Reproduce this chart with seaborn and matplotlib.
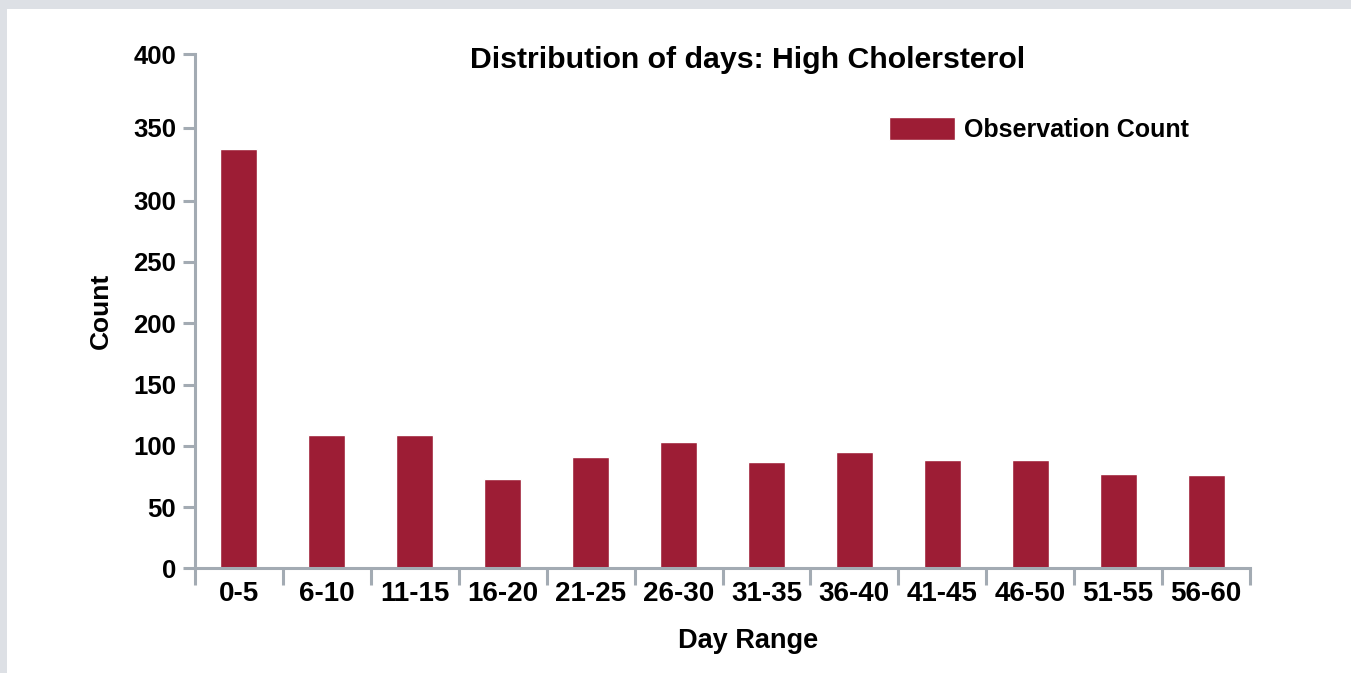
import numpy as np
import pandas as pd
import matplotlib
matplotlib.use("Agg")
import matplotlib.pyplot as plt
import seaborn as sns
from matplotlib.patches import Rectangle

# Data
day_ranges = ["0-5", "6-10", "11-15", "16-20", "21-25", "26-30",
              "31-35", "36-40", "41-45", "46-50", "51-55", "56-60"]
counts = [335, 109, 109, 73, 91, 103, 87, 95, 88, 88, 77, 76]
y_ticks = [0, 50, 100, 150, 200, 250, 300, 350, 400]

bar_color = "#9d1d35"
axis_gray = "#a3abb3"

sns.set_theme(style="white")
plt.rcParams["font.family"] = ["Liberation Sans", "DejaVu Sans"]
plt.rcParams["font.weight"] = "bold"
plt.rcParams["text.color"] = "black"

df = pd.DataFrame({"Day Range": day_ranges, "Count": counts})

fig = plt.figure(figsize=(13.51, 6.73), dpi=100, facecolor="#dde0e5")
# white panel inside the grey frame (grey strip only on top and left)
fig.add_artist(Rectangle((7 / 1351, 0), 1, 664 / 673, transform=fig.transFigure,
                         facecolor="white", edgecolor="none", zorder=0))

ax = fig.add_axes([195 / 1351, 104.7 / 673, 1055 / 1351, 514 / 673])
ax.set_facecolor("none")

# the reference axis is stretched above 300
k = 1.195
def fwd(y):
    y = np.asarray(y, dtype=float)
    return np.where(y <= 300, y, 300 + (y - 300) * k)
def inv(y):
    y = np.asarray(y, dtype=float)
    return np.where(y <= 300, y, 300 + (y - 300) / k)
ax.set_yscale("function", functions=(fwd, inv))

sns.barplot(data=df, x="Day Range", y="Count", color=bar_color, width=0.42,
            saturation=1, ax=ax, label="Observation Count")

ax.set_ylim(0, 400)
ax.set_xlim(-0.5, len(day_ranges) - 0.5)
ax.set_yticks(y_ticks)
ax.set_yticklabels([str(t) for t in y_ticks])

# category boundaries carry the tick marks
ax.set_xticks(np.arange(len(day_ranges) + 1) - 0.5, minor=True)
ax.tick_params(axis="x", which="major", length=0, pad=9, labelsize=20,
               labelcolor="black")
ax.tick_params(axis="x", which="minor", length=12.5, width=2.2, color=axis_gray,
               direction="out", bottom=True)
ax.tick_params(axis="y", which="major", length=8.5, width=2.2, color=axis_gray,
               direction="out", left=True, pad=5, labelsize=18.5,
               labelcolor="black")

sns.despine(ax=ax)
for side in ["left", "bottom"]:
    ax.spines[side].set_color(axis_gray)
    ax.spines[side].set_linewidth(2.2)
ax.grid(False)

ax.set_xlabel("Day Range", fontsize=19.5, fontweight="bold", color="black")
ax.xaxis.set_label_coords(0.524, -0.155)
ax.xaxis.label.set_va("baseline")
ax.set_ylabel("Count", fontsize=19, fontweight="bold", color="black")
ax.yaxis.set_label_coords(-0.078, 0.5)

ax.text(0.524, 0.974, "Distribution of days: High Cholersterol", transform=ax.transAxes,
        ha="center", va="baseline", fontsize=21.8, fontweight="bold", color="black")

leg = ax.legend(loc="upper left", bbox_to_anchor=(0.646, 0.903), frameon=False,
                borderpad=0, handlelength=2.65, handleheight=1.05, handletextpad=0.36,
                prop={"size": 18, "weight": "bold"})
for t in leg.get_texts():
    t.set_color("black")

fig.savefig("out.png", dpi=100, facecolor=fig.get_facecolor())
